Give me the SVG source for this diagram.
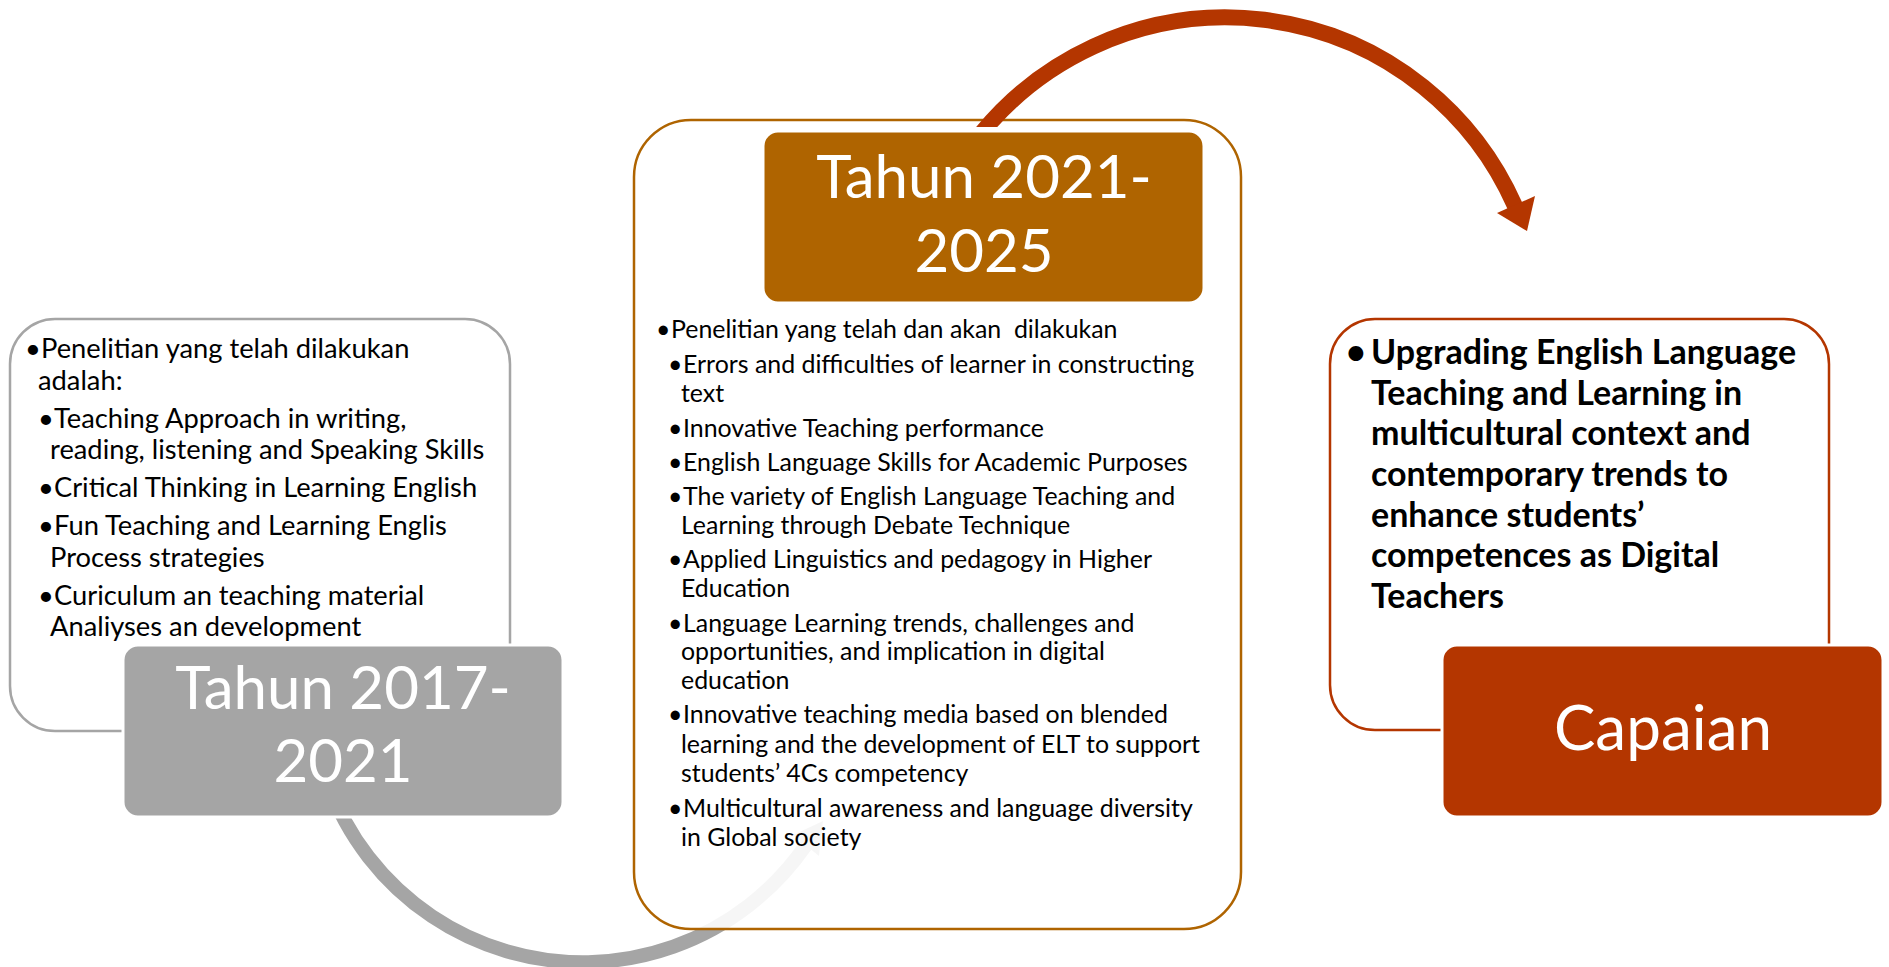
<svg xmlns="http://www.w3.org/2000/svg" width="1889" height="967" viewBox="0 0 1889 967">
<style>
.body{font-family:Lato,"Liberation Sans",sans-serif;fill:#000}
.l{font-size:27.3px}
.m{font-size:24.9px}
.r{font-size:34px;font-weight:bold}
.title{font-family:Lato,"Liberation Sans",sans-serif;fill:#fff;text-anchor:middle}
</style>
<defs>
<clipPath id="redclip"><path d="M0 0 H1889 V967 H1100 V127 H0 Z"/></clipPath>
</defs>
<rect width="1889" height="967" fill="#fff"/>

<g id="node-2017-box">
<rect x="10" y="319" width="500" height="412" rx="45" fill="#fff" fill-opacity="0.9" stroke="#A5A5A5" stroke-width="2.5"/>
<g class="body l">
<text x="25" y="358">•</text><text x="41" y="358">Penelitian yang telah dilakukan</text>
<text x="38" y="390">adalah:</text>
<text x="38" y="428">•</text><text x="54" y="428">Teaching Approach in writing,</text>
<text x="50" y="459">reading, listening and Speaking Skills</text>
<text x="38" y="497">•</text><text x="54" y="497">Critical Thinking in Learning English</text>
<text x="38" y="535">•</text><text x="54" y="535">Fun Teaching and Learning Englis</text>
<text x="50" y="567">Process strategies</text>
<text x="38" y="605">•</text><text x="54" y="605">Curiculum an teaching material</text>
<text x="50" y="636">Analiyses an development</text>
</g>
</g>

<g id="connectors">
<path id="gray-arc" d="M 312 700 A 271 271 0 0 0 806 845" fill="none" stroke="#A5A5A5" stroke-width="14"/>
<polygon points="793,835 819,856 823,821" fill="#A5A5A5"/>
</g>

<g id="node-2017-label">
<rect x="123" y="645" width="440" height="172" rx="15" fill="#A5A5A5" stroke="#fff" stroke-width="3"/>
<text class="title" x="343" y="709" font-size="60">Tahun 2017-</text>
<text class="title" x="343" y="782" font-size="60">2021</text>
</g>

<g id="node-2021-box">
<rect x="634" y="120" width="607" height="809" rx="57" fill="#fff" fill-opacity="0.9" stroke="#AF6400" stroke-width="2.5"/>
<g class="body m">
<text x="656" y="338">•</text><text x="671" y="338" xml:space="preserve">Penelitian yang telah dan akan  dilakukan</text>
<text x="668" y="373">•</text><text x="683" y="373">Errors and difficulties of learner in constructing</text>
<text x="681" y="402">text</text>
<text x="668" y="437">•</text><text x="683" y="437">Innovative Teaching performance</text>
<text x="668" y="471">•</text><text x="683" y="471">English Language Skills for Academic Purposes</text>
<text x="668" y="505">•</text><text x="683" y="505">The variety of English Language Teaching and</text>
<text x="681" y="534">Learning through Debate Technique</text>
<text x="668" y="568">•</text><text x="683" y="568">Applied Linguistics and pedagogy in Higher</text>
<text x="681" y="597">Education</text>
<text x="668" y="632">•</text><text x="683" y="632">Language Learning trends, challenges and</text>
<text x="681" y="660">opportunities, and implication in digital</text>
<text x="681" y="689">education</text>
<text x="668" y="723">•</text><text x="683" y="723">Innovative teaching media based on blended</text>
<text x="681" y="753">learning and the development of ELT to support</text>
<text x="681" y="782">students’ 4Cs competency</text>
<text x="668" y="817">•</text><text x="683" y="817">Multicultural awareness and language diversity</text>
<text x="681" y="846">in Global society</text>
</g>
</g>

<g id="node-2021-label">
<rect x="763" y="131" width="441" height="172" rx="15" fill="#AF6400" stroke="#fff" stroke-width="3"/>
<text class="title" x="984" y="198" font-size="60">Tahun 2021-</text>
<text class="title" x="984" y="272" font-size="60">2025</text>
</g>

<g id="connectors-top">
<path d="M 976 140 A 316 316 0 0 1 1515 206" fill="none" stroke="#B43600" stroke-width="16" clip-path="url(#redclip)"/>
<polygon points="1497,213 1535,196 1527,231" fill="#B43600"/>
</g>

<g id="node-capaian-box">
<rect x="1330" y="319" width="499" height="411" rx="45" fill="#fff" fill-opacity="0.9" stroke="#B43600" stroke-width="2.5"/>
<g class="body r">
<text x="1346" y="364">•</text><text x="1371" y="364">Upgrading English Language</text>
<text x="1371" y="405">Teaching and Learning in</text>
<text x="1371" y="445">multicultural context and</text>
<text x="1371" y="486">contemporary trends to</text>
<text x="1371" y="527">enhance students’</text>
<text x="1371" y="567">competences as Digital</text>
<text x="1371" y="608">Teachers</text>
</g>
</g>

<g id="node-capaian-label">
<rect x="1442" y="645" width="441" height="172" rx="15" fill="#B43600" stroke="#fff" stroke-width="3"/>
<text class="title" x="1663" y="750" font-size="62">Capaian</text>
</g>
</svg>
